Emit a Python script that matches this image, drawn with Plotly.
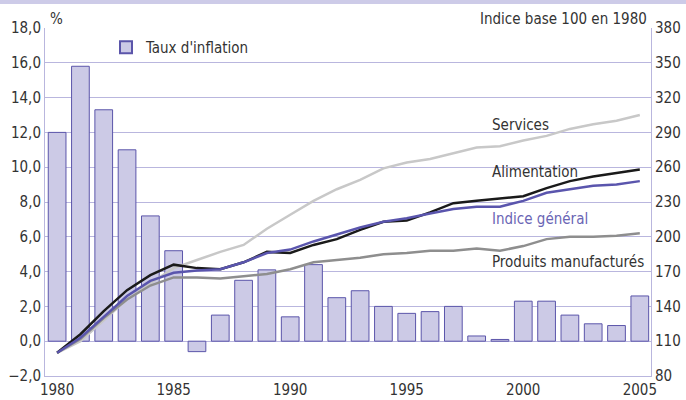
import plotly.graph_objects as go

years = list(range(1980, 2006))
inflation = [12.0, 15.8, 13.3, 11.0, 7.2, 5.2, -0.6, 1.5, 3.5, 4.1, 1.4, 4.4, 2.5,
             2.9, 2.0, 1.6, 1.7, 2.0, 0.3, 0.1, 2.3, 2.3, 1.5, 1.0, 0.9, 2.6]
services = [100, 110, 128, 146, 160, 173, 180, 187, 193, 207, 219, 231, 241,
            249, 259, 264, 267, 272, 277, 278, 283, 287, 293, 297, 300, 305]
alimentation = [100, 116, 136, 154, 167, 176, 173, 172, 178, 187, 186, 193, 198,
                206, 213, 214, 221, 229, 231, 233, 235, 242, 248, 252, 255, 258]
general = [100, 113, 131, 149, 162, 169, 171, 172, 178, 186, 189, 196, 202,
           208, 213, 216, 220, 224, 226, 226, 231, 238, 241, 244, 245, 248]
manufactures = [100, 112, 130, 146, 158, 165, 165, 164, 166, 168, 172, 178, 180,
                182, 185, 186, 188, 188, 190, 188, 192, 198, 200, 200, 201, 203]
left_ticks = [-2, 0, 2, 4, 6, 8, 10, 12, 14, 16, 18]
right_ticks = [80, 110, 140, 170, 200, 230, 260, 290, 320, 350, 380]
x_ticks = [1980, 1985, 1990, 1995, 2000, 2005]

GRID = "#b9b6de"
TXT = "#333333"
FONT = "DejaVu Sans Condensed, DejaVu Sans, sans-serif"

fig = go.Figure()
fig.add_trace(go.Bar(x=years, y=inflation, name="Taux d'inflation", width=0.76,
                     marker=dict(color="#cccae6", line=dict(color="#5b55aa", width=1)),
                     yaxis="y"))
line_specs = [
    (services, "#c8c8c8", "Services"),
    (manufactures, "#8e8e8e", "Produits manufacturés"),
    (alimentation, "#1a1a1a", "Alimentation"),
    (general, "#5a55ad", "Indice général"),
]
for vals, col, nm in line_specs:
    fig.add_trace(go.Scatter(x=years, y=vals, mode="lines", name=nm, showlegend=False,
                             line=dict(color=col, width=2.5), yaxis="y2"))

W, H = 686, 400
L, R, T, B = 45, 35, 28, 24
pw, ph = W - L - R, H - T - B

def px(x):
    return (x - L) / pw

def py(y):
    return (H - B - y) / ph

annos = [
    ("%", 48, 19, "left", TXT),
    ("Indice base 100 en 1980", 649, 19, "right", TXT),
    ("Services", 490, 125, "left", TXT),
    ("Alimentation", 490, 172, "left", TXT),
    ("Indice général", 490, 219, "left", "#6a65b5"),
    ("Produits manufacturés", 490, 262, "left", TXT),
]
for text, x, y, anc, col in annos:
    fig.add_annotation(text=text, x=px(x), y=py(y), xref="paper", yref="paper",
                       xanchor=anc, yanchor="middle", showarrow=False,
                       font=dict(size=15, color=col, family=FONT))

fig.add_shape(type="rect", xref="paper", yref="paper", x0=px(0), x1=px(W),
              y0=py(4), y1=py(0), fillcolor="#cdcbe8", line=dict(width=0), layer="below")

fig.update_layout(
    width=W, height=H, margin=dict(l=L, r=R, t=T, b=B, autoexpand=False),
    paper_bgcolor="white", plot_bgcolor="white",
    separators=", ",
    font=dict(family=FONT, size=15, color=TXT),
    bargap=0.24,
    showlegend=True,
    legend=dict(x=px(106), y=py(31), xanchor="left", yanchor="top",
                bgcolor="rgba(0,0,0,0)", font=dict(size=15, color=TXT),
                itemsizing="constant"),
    xaxis=dict(range=[1979.48, 2005.48], tickvals=x_ticks, ticktext=[str(v) for v in x_ticks],
               showgrid=False, showline=True, linecolor=GRID, linewidth=1,
               ticks="", zeroline=False, mirror=False, automargin=False),
    yaxis=dict(range=[-2, 18], tickvals=left_ticks, tickformat=".1f",
               showgrid=True, gridcolor=GRID, gridwidth=1, zeroline=True,
               zerolinecolor=GRID, zerolinewidth=1, automargin=False,
               showline=True, linecolor=GRID, linewidth=1, ticks="", ticklen=0),
    yaxis2=dict(range=[80, 380], tickvals=right_ticks, overlaying="y", side="right",
                showgrid=False, zeroline=False, showline=True, linecolor=GRID,
                linewidth=1, ticks="", automargin=False),
)

fig.write_html("out.html", config={"displayModeBar": False},
               post_script="document.body.style.margin='0';document.body.style.overflow='hidden';")
